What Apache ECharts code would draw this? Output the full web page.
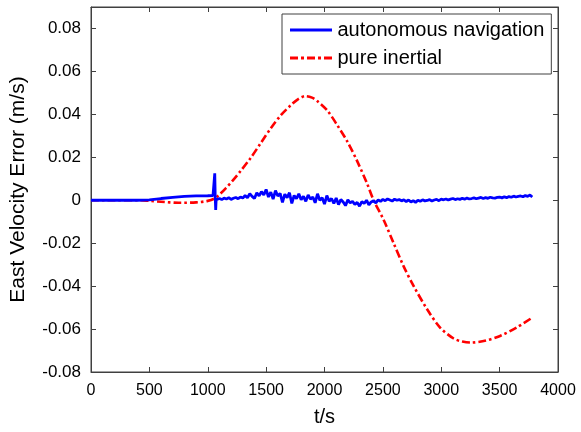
<!DOCTYPE html>
<html>
<head>
<meta charset="utf-8">
<script src="https://cdn.jsdelivr.net/npm/echarts@6/dist/echarts.min.js"></script>
<style>html,body{margin:0;padding:0;background:#fff;}#c{width:581px;height:432px;}</style>
</head>
<body>
<div id="c"></div>
<script>
// ---- data ----
var xTicks = [0, 500, 1000, 1500, 2000, 2500, 3000, 3500, 4000];
var yTicks = [-0.08, -0.06, -0.04, -0.02, 0, 0.02, 0.04, 0.06, 0.08];

var redT = [0, 200, 400, 500, 600, 750, 900, 1000, 1057, 1107, 1158, 1208, 1284, 1369, 1455, 1540, 1626, 1712, 1772, 1837, 1893, 1938, 2024, 2109, 2195, 2280, 2366, 2421, 2507, 2592, 2678, 2764, 2879, 2990, 3106, 3181, 3252, 3363, 3504, 3645, 3785];
var redV = [0, 0, 0, -0.0003, -0.0007, -0.0012, -0.0010, -0.0003, 0.0008, 0.0030, 0.0058, 0.0088, 0.0138, 0.0198, 0.0267, 0.0335, 0.0396, 0.0443, 0.0470, 0.0485, 0.0478, 0.0462, 0.0418, 0.0350, 0.0274, 0.0182, 0.0076, 0.0000, -0.0092, -0.0200, -0.0308, -0.0400, -0.0508, -0.0593, -0.0644, -0.0658, -0.0663, -0.0656, -0.0632, -0.0593, -0.0545];

var blueEarlyT = [0, 200, 400, 500, 600, 700, 800, 900, 1000, 1045, 1055, 1060, 1064, 1068, 1072];
var blueEarlyV = [0, 0, 0, 0.0002, 0.0008, 0.0013, 0.0018, 0.0020, 0.0021, 0.0022, 0.0022, 0.0125, 0.0015, -0.0045, 0.0002];
var blueStart = 1080, blueStep = 20;
var blueV = [
  0.0005, 0.0008, 0.0003, 0.0010, 0.0006, 0.0012, 0.0004, 0.0009, 0.0013, 0.0007,
  0.0015, 0.0010, 0.0022, 0.0012, 0.0030, 0.0018, 0.0008, 0.0035, 0.0020, 0.0040,
  0.0025, 0.0050, 0.0015, 0.0038, 0.0005, 0.0045, 0.0020, 0.0032, -0.0010, 0.0028,
  0.0012, 0.0035, -0.0015, 0.0022, 0.0008, 0.0030, 0.0002, 0.0018, -0.0005, 0.0025,
  0.0005, 0.0015, -0.0012, 0.0030, 0.0000, 0.0012, -0.0018, 0.0022, -0.0005, 0.0008,
  -0.0015, 0.0010, -0.0020, 0.0003, -0.0008, -0.0025, 0.0002, -0.0012, -0.0005, -0.0020,
  -0.0010, -0.0028, -0.0006, -0.0015, 0.0000, -0.0022, -0.0008, -0.0003, -0.0012, 0.0002,
  -0.0005, 0.0004, -0.0002, 0.0006, 0.0001, -0.0004, 0.0005, 0.0000, 0.0003, -0.0003,
  0.0002, -0.0006, 0.0001, -0.0008, -0.0002, -0.0010, 0.0000, -0.0005, 0.0002, -0.0003,
  -0.0001, 0.0003, -0.0004, 0.0001, 0.0004, -0.0002, 0.0005, 0.0002, 0.0006, 0.0001,
  0.0005, 0.0008, 0.0003, 0.0007, 0.0004, 0.0009, 0.0005, 0.0010, 0.0006, 0.0008,
  0.0011, 0.0007, 0.0010, 0.0013, 0.0008, 0.0012, 0.0009, 0.0014, 0.0011, 0.0010,
  0.0013, 0.0015, 0.0011, 0.0016, 0.0012, 0.0017, 0.0014, 0.0019, 0.0015, 0.0018,
  0.0020, 0.0016, 0.0022, 0.0018, 0.0024, 0.0015
];
var seriesNames = ['autonomous navigation', 'pure inertial'];

// ---- build ----
var redData = redT.map(function (t, i) { return [t, redV[i]]; });
var blueData = blueEarlyT.map(function (t, i) { return [t, blueEarlyV[i]]; });
blueV.forEach(function (v, i) { blueData.push([blueStart + i * blueStep, v]); });

var axisColor = '#404040';
var font = 'Liberation Sans, Arial, sans-serif';
var xMin = xTicks[0], xMax = xTicks[xTicks.length - 1], xInt = xTicks[1] - xTicks[0];
var yMin = yTicks[0], yInt = 0.02, yMax = 0.09;

function xAx(pos, show) {
  return {
    type: 'value', position: pos, min: xMin, max: xMax, interval: xInt,
    splitLine: { show: false },
    axisLine: { show: true, onZero: false, lineStyle: { color: axisColor, width: 1 } },
    axisTick: { show: true, inside: true, length: 5, lineStyle: { color: axisColor } },
    axisLabel: { show: show, margin: 11, fontSize: 16, color: '#000', fontFamily: font,
      formatter: function (v) { return String(v); } },
    name: show ? 't/s' : '', nameLocation: 'middle', nameGap: 35,
    nameTextStyle: { fontSize: 20, color: '#000', fontFamily: font }
  };
}
function yAx(pos, show) {
  return {
    type: 'value', position: pos, min: yMin, max: yMax, interval: yInt,
    splitLine: { show: false },
    axisLine: { show: true, onZero: false, lineStyle: { color: axisColor, width: 1 } },
    axisTick: { show: true, inside: true, length: 5, lineStyle: { color: axisColor } },
    axisLabel: {
      show: show, margin: 10, fontSize: 17, color: '#000', fontFamily: font,
      showMaxLabel: false,
      formatter: function (v) { var r = Math.round(v * 100) / 100; return yTicks.indexOf(r) >= 0 ? String(r) : ''; }
    },
    name: show ? 'East Velocity Error (m/s)' : '', nameLocation: 'middle', nameGap: 62,
    nameTextStyle: { fontSize: 21, color: '#000', fontFamily: font }
  };
}

var blueIcon = 'path://M0,0h42v3h-42z';
var redIcon = 'path://M0,0h8v3h-8zM11,0h3v3h-3zM17,0h8v3h-8zM28,0h3v3h-3zM34,0h8v3h-8z';

var chart = echarts.init(document.getElementById('c'), null, { renderer: 'canvas' });
chart.setOption({
  animation: false,
  backgroundColor: '#fff',
  grid: { left: 90, right: 23, top: 7, bottom: 56, containLabel: false,
    show: true, borderColor: axisColor, borderWidth: 1, backgroundColor: 'transparent' },
  xAxis: [xAx('bottom', true), xAx('top', false)],
  yAxis: [yAx('left', true), yAx('right', false)],
  legend: {
    orient: 'vertical', left: 282, top: 14,
    padding: [6, 7, 6, 8], itemGap: 8, itemWidth: 43, itemHeight: 3,
    backgroundColor: '#fff', borderColor: axisColor, borderWidth: 1,
    textStyle: { fontSize: 20, color: '#000', fontFamily: font },
    data: [
      { name: seriesNames[0], icon: blueIcon, itemStyle: { color: '#0000ff' } },
      { name: seriesNames[1], icon: redIcon, itemStyle: { color: '#ff0000' } }
    ]
  },
  series: [
    {
      name: seriesNames[0], type: 'line', data: blueData, symbol: 'none',
      xAxisIndex: 0, yAxisIndex: 0, z: 3,
      lineStyle: { color: '#0000ff', width: 2.8 }, itemStyle: { color: '#0000ff' }
    },
    {
      name: seriesNames[1], type: 'line', data: redData, symbol: 'none', smooth: 0.3,
      xAxisIndex: 0, yAxisIndex: 0, z: 2,
      lineStyle: { color: '#ff0000', width: 2.6, type: [8, 3, 2.5, 3] }, itemStyle: { color: '#ff0000' }
    },
    { type: 'line', data: [], xAxisIndex: 1, yAxisIndex: 1, silent: true }
  ]
});
</script>
</body>
</html>
